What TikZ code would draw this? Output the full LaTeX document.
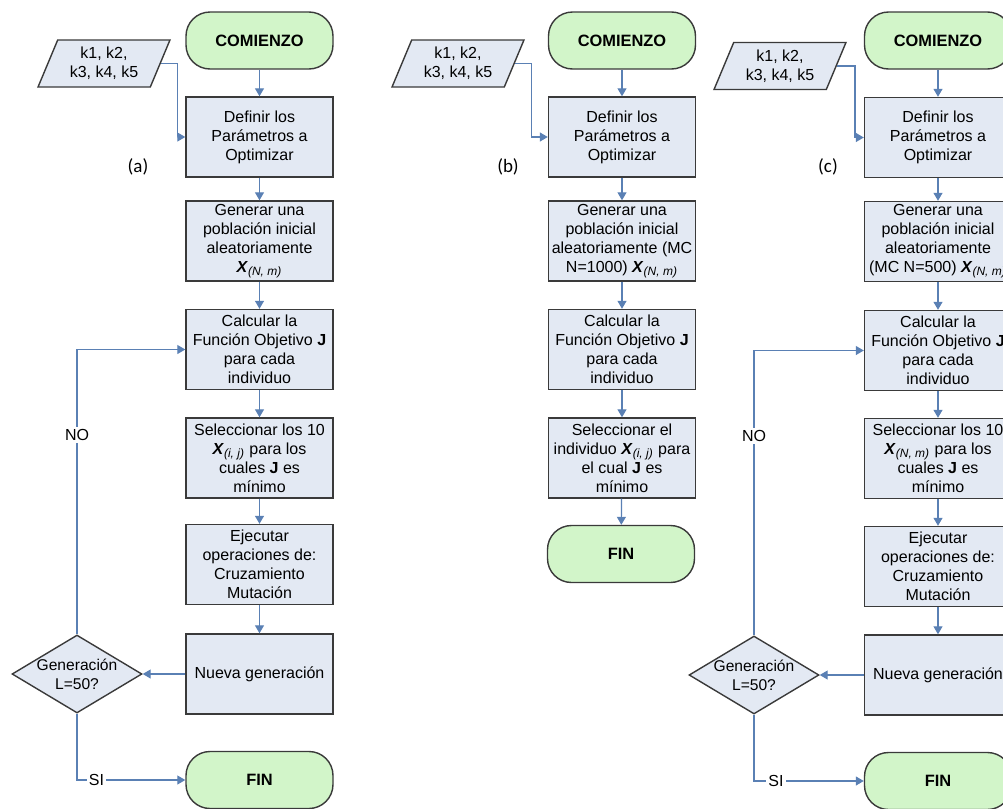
\documentclass[tikz,border=0pt]{standalone}
\usepackage{fontspec}
\setmainfont{Liberation Sans}
\newfontfamily\calibri{Carlito}
\usetikzlibrary{arrows.meta, shapes.geometric, positioning}

\definecolor{cajaazul}{HTML}{E3E9F3}
\definecolor{verdeclaro}{HTML}{D2F5C9}
\definecolor{bordegris}{HTML}{3A3A3A}
\definecolor{lineaazul}{HTML}{5A80B4}
\newcommand{\Xsub}[1]{\textbf{\textit{X}}\textsubscript{\textit{#1}}}

\tikzset{
    terminal/.style={draw=bordegris, fill=verdeclaro, line width=0.7pt, rounded corners=12pt,
        minimum width=73.5pt, minimum height=28.5pt, font=\fontsize{8.2}{10}\selectfont\bfseries},
    proceso/.style={draw=bordegris, fill=cajaazul, line width=0.7pt, minimum width=73.5pt,
        minimum height=40pt, align=center, inner sep=0pt, font=\fontsize{8}{9.5}\selectfont},
    datos/.style={trapezium, trapezium left angle=66, trapezium right angle=114,
        trapezium stretches=true, draw=bordegris, fill=cajaazul, line width=0.7pt,
        minimum width=66pt, minimum height=23.5pt, align=center, inner sep=0pt,
        font=\fontsize{8}{9.5}\selectfont},
    decision/.style={diamond, draw=bordegris, fill=cajaazul, line width=0.7pt,
        minimum width=65pt, minimum height=39pt, inner sep=0pt},
    textodec/.style={align=center, inner sep=0pt, font=\fontsize{7.8}{9.5}\selectfont},
    flecha/.style={draw=lineaazul, line width=0.6pt, -{Triangle[length=4pt,width=4.5pt]}},
    etiq/.style={fill=white, inner sep=1pt, font=\fontsize{8}{9.5}\selectfont},
    panel/.style={font=\calibri\fontsize{9.5}{11}\selectfont}
}

\begin{document}
\begin{tikzpicture}[x=0.5pt, y=-0.5pt]
    \useasboundingbox (0,0) rectangle (1003,809);
    \clip (0,0) rectangle (1003,809);

    % 1. Diagrama (a)
    \node[terminal] (iniA) at (259.5,40.5) {COMIENZO};
    \node[datos] (datosA) at (104,63.5) {k1, k2,\\k3, k4, k5};
    \node[proceso] (defA) at (259.5,137) {Definir los\\Parámetros a\\Optimizar};
    \node[proceso] (genA) at (259.5,241) {Generar una\\población inicial\\aleatoriamente\\\Xsub{(N, m)}};
    \node[proceso] (calcA) at (259.5,349.5) {Calcular la\\Función Objetivo \textbf{J}\\para cada\\individuo};
    \node[proceso] (selA) at (259.5,458) {Seleccionar los 10\\\Xsub{(i, j)} para los\\cuales \textbf{J} es\\mínimo};
    \node[proceso] (ejeA) at (259.5,564.5) {Ejecutar\\operaciones de:\\Cruzamiento\\Mutación};
    \node[proceso] (nuevaA) at (259.5,674) {Nueva generación};
    \node[decision] (decA) at (77,674) {};
    \node[textodec] (tdecA) at (decA) {Generación\\L=50?};
    \node[terminal] (finA) at (259.5,780) {FIN};
    \node[panel] (etA) at (138,167) {(a)};

    \draw[flecha] (iniA) -- (defA);
    \draw[flecha] (datosA.east) -- ++(17,0) |- (defA.west);
    \draw[flecha] (defA) -- (genA);
    \draw[flecha] (genA) -- (calcA);
    \draw[flecha] (calcA) -- (selA);
    \draw[flecha] (selA) -- (ejeA);
    \draw[flecha] (ejeA) -- (nuevaA);
    \draw[flecha] (nuevaA) -- (decA);
    \draw[flecha] (decA.north) |- (calcA.west) node[etiq, pos=0.35] {NO};
    \draw[flecha] (decA.south) |- (finA.west) node[etiq, pos=0.59] {SI};

    % 2. Diagrama (b)
    \node[terminal] (iniB) at (622,40.5) {COMIENZO};
    \node[datos] (datosB) at (458,63.5) {k1, k2,\\k3, k4, k5};
    \node[proceso] (defB) at (622,137) {Definir los\\Parámetros a\\Optimizar};
    \node[proceso] (genB) at (622,241) {Generar una\\población inicial\\aleatoriamente (MC\\N=1000) \Xsub{(N, m)}};
    \node[proceso] (calcB) at (622,349.5) {Calcular la\\Función Objetivo \textbf{J}\\para cada\\individuo};
    \node[proceso] (selB) at (622,458) {Seleccionar el\\individuo \Xsub{(i, j)} para\\el cual \textbf{J} es\\mínimo};
    \node[terminal] (finB) at (621,554) {FIN};
    \node[panel] (etB) at (508,167) {(b)};

    \draw[flecha] (iniB) -- (defB);
    \draw[flecha] (datosB.east) -- ++(17,0) |- (defB.west);
    \draw[flecha] (defB) -- (genB);
    \draw[flecha] (genB) -- (calcB);
    \draw[flecha] (calcB) -- (selB);
    \draw[flecha] (selB) -- (finB);

    % 3. Diagrama (c)
    \node[terminal] (iniC) at (938,40.5) {COMIENZO};
    \node[datos] (datosC) at (780,66) {k1, k2,\\k3, k4, k5};
    \node[proceso] (defC) at (938,137.5) {Definir los\\Parámetros a\\Optimizar};
    \node[proceso] (genC) at (938,241.5) {Generar una\\población inicial\\aleatoriamente\\(MC N=500) \Xsub{(N, m)}};
    \node[proceso] (calcC) at (938,350.5) {Calcular la\\Función Objetivo \textbf{J}\\para cada\\individuo};
    \node[proceso] (selC) at (938,458.5) {Seleccionar los 10\\\Xsub{(N, m)} para los\\cuales \textbf{J} es\\mínimo};
    \node[proceso] (ejeC) at (938,566.5) {Ejecutar\\operaciones de:\\Cruzamiento\\Mutación};
    \node[proceso] (nuevaC) at (938,675) {Nueva generación};
    \node[decision] (decC) at (754,675) {};
    \node[textodec] (tdecC) at (decC) {Generación\\L=50?};
    \node[terminal] (finC) at (938,781) {FIN};
    \node[panel] (etC) at (828,167) {(c)};

    \draw[flecha] (iniC) -- (defC);
    \draw[flecha] (datosC.east) -- ++(18,0) |- (defC.west);
    \draw[flecha] (defC) -- (genC);
    \draw[flecha] (genC) -- (calcC);
    \draw[flecha] (calcC) -- (selC);
    \draw[flecha] (selC) -- (ejeC);
    \draw[flecha] (ejeC) -- (nuevaC);
    \draw[flecha] (nuevaC) -- (decC);
    \draw[flecha] (decC.north) |- (calcC.west) node[etiq, pos=0.35] {NO};
    \draw[flecha] (decC.south) |- (finC.west) node[etiq, pos=0.6] {SI};
\end{tikzpicture}
\end{document}
